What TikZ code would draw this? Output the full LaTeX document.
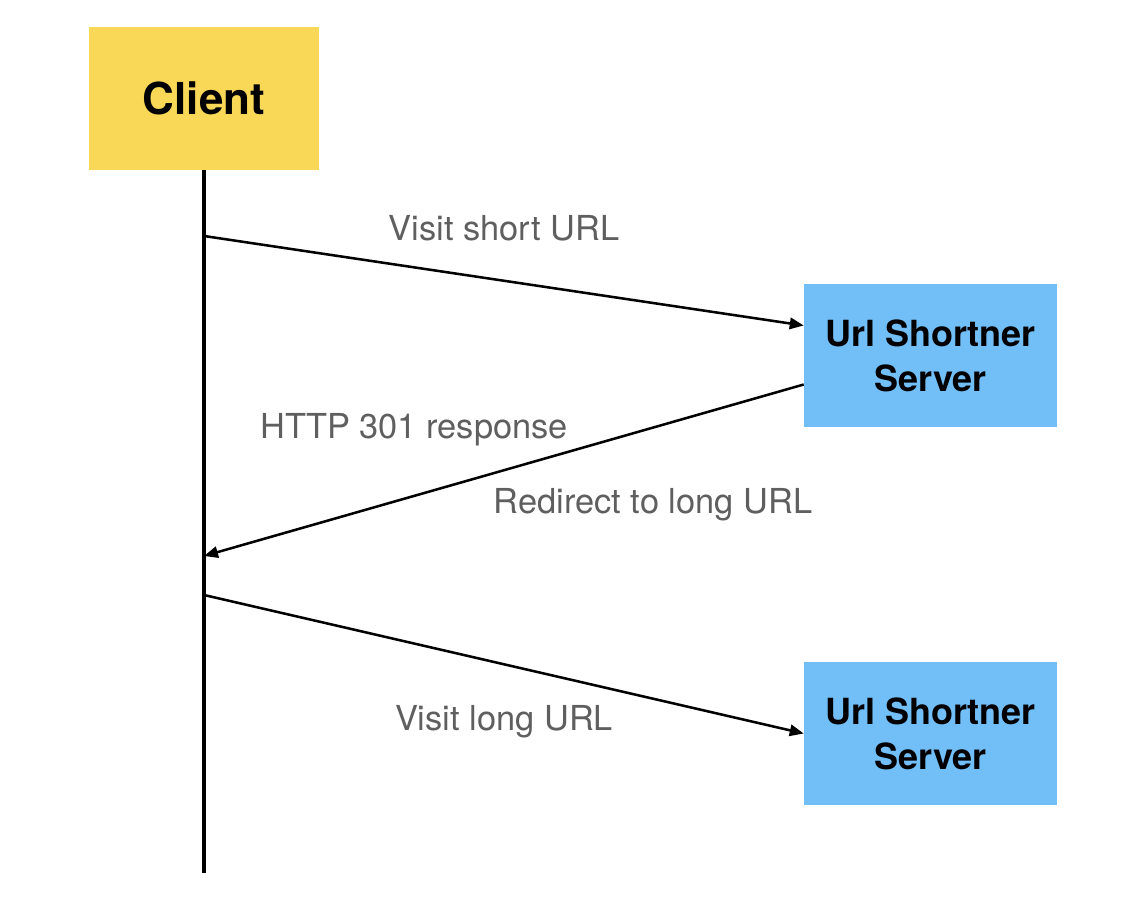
\documentclass[tikz,border=0pt]{standalone}
\usepackage{fontspec}
\setmainfont{TeX Gyre Heros}
\usetikzlibrary{arrows.meta}
\definecolor{clientyellow}{HTML}{F8D856}
\definecolor{serverblue}{HTML}{72BFF8}
\definecolor{labelgray}{HTML}{5F5F5F}
\tikzset{
  actor/.style={inner sep=0pt,align=center,font=\bfseries},
  msg/.style={line width=1.9pt,-{Triangle[length=10.5pt,width=8.5pt]}},
  msglabel/.style={text=labelgray,font=\fontsize{25.8}{30}\selectfont}
}
\begin{document}
\begin{tikzpicture}[x=0.75pt,y=-0.75pt]
				\useasboundingbox (0,0) rectangle (1148,912);
				\node[actor,fill=clientyellow,minimum width=172.5pt,minimum height=107.25pt,font=\bfseries\fontsize{33}{38}\selectfont] (client) at (204,98.5) {Client};
				\node[actor,fill=serverblue,minimum width=189.75pt,minimum height=107.25pt,font=\bfseries\fontsize{27}{33.75}\selectfont] (server) at (930.5,355.5) {Url Shortner\\Server};
				\node[actor,fill=serverblue,minimum width=189.75pt,minimum height=107.25pt,font=\bfseries\fontsize{27}{33.75}\selectfont] (longserver) at (930.5,733.5) {Url Shortner\\Server};
				\coordinate (lifeend) at (204,873);
				\draw[line width=2.4pt] (client.south) -- (lifeend);
				\coordinate (c1) at (204,236);
				\coordinate (c2) at (204,556);
				\coordinate (c3) at (204,595);
				\coordinate (s1) at ([yshift=22.5pt]server.west);
				\coordinate (s2) at ([yshift=-21.75pt]server.west);
				\draw[msg] (c1) -- (s1);
				\draw[msg] (s2) -- (c2);
				\draw[msg] (c3) -- (longserver.west);
				\node[msglabel] (shortlbl) at (504,228) {Visit short URL};
				\node[msglabel] (httplbl) at (414,429.5) {HTTP 301 response};
				\node[msglabel] (redirlbl) at (653,504.5) {Redirect to long URL};
				\node[msglabel] (longlbl) at (504,721.5) {Visit long URL};
			\end{tikzpicture}
\end{document}
